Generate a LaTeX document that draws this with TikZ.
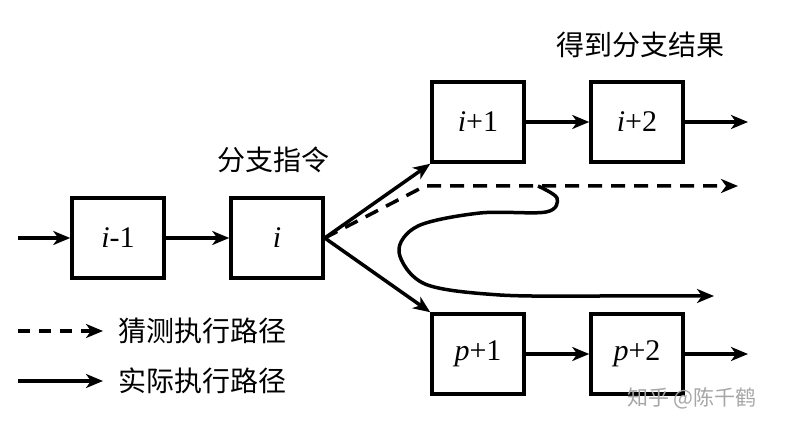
\documentclass[tikz,border=0pt]{standalone}
\usepackage{fontspec}
\setmainfont{Liberation Serif}
\newfontfamily\cjk{Noto Sans CJK SC}
\usetikzlibrary{arrows.meta}
\begin{document}
\begin{tikzpicture}[x=1pt,y=-1pt,
  blk/.style={draw, line width=3.5pt, minimum width=92pt, minimum height=80pt, inner sep=0pt, font=\fontsize{30}{32}\selectfont},
  arr/.style={line width=3.5pt, -{Stealth[length=17pt,width=14pt,inset=5pt]}},
  dsh/.style={arr, dash pattern=on 14pt off 9pt},
  lbl/.style={font=\cjk\fontsize{28}{30}\selectfont, inner sep=0pt},
  wm/.style={font=\cjk\fontsize{21}{23}\selectfont, text=black!35, inner sep=0pt}]
\useasboundingbox (0,0) rectangle (787,430);
\node[blk] (a) at (118,238) {\textit{i}-1};
\node[blk] (b) at (277,238) {\textit{i}};
\node[blk] (c) at (478,122) {\textit{i}+1};
\node[blk] (d) at (637,122) {\textit{i}+2};
\node[blk] (e) at (478,354) {\textit{p}+1};
\node[blk] (f) at (637,354) {\textit{p}+2};
\coordinate (in) at (18,238);
\coordinate (outd) at (748,122);
\coordinate (outf) at (748,354);
\coordinate (dk) at (425,186);
\coordinate (dend) at (738,186);
\coordinate (s0) at (538,186);
\coordinate (send) at (714,296);
\draw[arr] (in) -- (a);
\draw[arr] (a) -- (b);
\draw[arr] (b.east) -- (c.south west);
\draw[arr] (b.east) -- (e.north west);
\draw[arr] (c) -- (d);
\draw[arr] (d) -- (outd);
\draw[arr] (e) -- (f);
\draw[arr] (f) -- (outf);
\draw[dsh] (b.east) -- (dk) -- (dend);
\draw[arr] plot[smooth, tension=0.55] coordinates {(s0) (557,198) (546,212) (480,213) (418,226) (399,252) (425,284) (500,295) (600,296)} -- (send);
\node[lbl] (t1) at (273,160) {分支指令};
\node[lbl] (t2) at (640,45) {得到分支结果};
\coordinate (l1a) at (18,331);
\coordinate (l1b) at (103,331);
\coordinate (l2a) at (18,381);
\coordinate (l2b) at (103,381);
\draw[dsh, dash pattern=on 12pt off 9pt] (l1a) -- (l1b);
\draw[arr] (l2a) -- (l2b);
\node[lbl, anchor=west] (t3) at (118,331) {猜测执行路径};
\node[lbl, anchor=west] (t4) at (118,381) {实际执行路径};
\node[wm] (w) at (692,398) {知乎 @陈千鹤};
\end{tikzpicture}
\end{document}
